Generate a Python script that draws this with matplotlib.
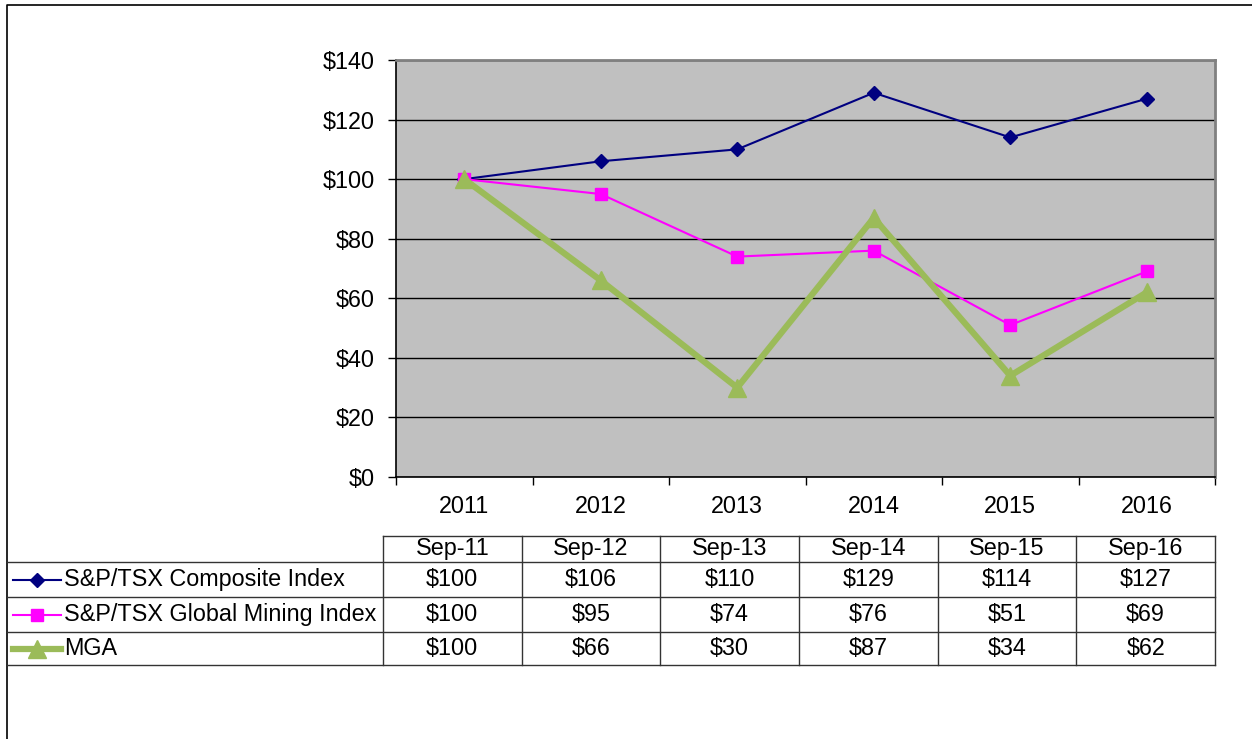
import numpy as np
import matplotlib.pyplot as plt
from matplotlib.lines import Line2D

plt.rcParams['font.family'] = ['Liberation Sans', 'DejaVu Sans']

years = ['2011', '2012', '2013', '2014', '2015', '2016']
dates = ['Sep-11', 'Sep-12', 'Sep-13', 'Sep-14', 'Sep-15', 'Sep-16']
series_names = ['S&P/TSX Composite Index', 'S&P/TSX Global Mining Index', 'MGA']
composite = [100, 106, 110, 129, 114, 127]
mining = [100, 95, 74, 76, 51, 69]
mga = [100, 66, 30, 87, 34, 62]
y_ticks = [0, 20, 40, 60, 80, 100, 120, 140]

W, H = 1252, 739
fs = 16.8
fig = plt.figure(figsize=(W / 100, H / 100), dpi=100)
fig.patch.set_facecolor('white')


def fx(x):
    return x / W


def fy(y):
    return 1 - y / H


# styles for each series: (color, marker, marker size, line width)
styles = [
    ('#000080', 'D', 7, 1.5),
    ('#FF00FF', 's', 9, 1.5),
    ('#9BBB59', '^', 13.5, 4.5),
]

# plot area
ax = fig.add_axes([fx(396), fy(477), fx(1215 - 396), (477 - 60) / H])
ax.set_facecolor('#C0C0C0')
x = np.arange(len(years))
for vals, (c, m, ms, lw) in zip([composite, mining, mga], styles):
    ax.plot(x, vals, color=c, marker=m, markersize=ms, linewidth=lw,
            markeredgecolor=c, zorder=3)

ax.set_xlim(-0.5, len(years) - 0.5)
ax.set_ylim(0, 140)
ax.set_yticks(y_ticks)
ax.set_yticklabels([f'${v}' for v in y_ticks], fontsize=fs)
ax.yaxis.grid(True, color='black', linewidth=1)
ax.set_axisbelow(True)

ax.set_xticks(np.arange(len(years) + 1) - 0.5)
ax.set_xticklabels([])
ax.set_xticks(x, minor=True)
ax.set_xticklabels(years, minor=True, fontsize=fs)
ax.tick_params(axis='x', which='major', length=6, width=1, direction='out')
ax.tick_params(axis='x', which='minor', length=0, pad=13)
ax.tick_params(axis='y', length=6, width=1, pad=9)

for side in ['left', 'bottom']:
    ax.spines[side].set_color('black')
    ax.spines[side].set_linewidth(1.2)
for side in ['top', 'right']:
    ax.spines[side].set_color('#808080')
    ax.spines[side].set_linewidth(2)

# outer frame
fig.add_artist(Line2D([fx(7), fx(7), 1], [0, fy(5), fy(5)], color='black', lw=1.2))

# data table below the chart
col_edges = np.linspace(383, 1215, len(dates) + 1)
row_edges = [536, 562, 597, 632, 665]
tcol = '#333333'
fig.add_artist(Line2D([fx(col_edges[0]), fx(col_edges[-1])], [fy(row_edges[0])] * 2, color=tcol, lw=1))
for ry in row_edges[1:]:
    fig.add_artist(Line2D([fx(7), fx(col_edges[-1])], [fy(ry)] * 2, color=tcol, lw=1))
for cx in col_edges:
    fig.add_artist(Line2D([fx(cx)] * 2, [fy(row_edges[0]), fy(row_edges[-1])], color=tcol, lw=1))

centers = (col_edges[:-1] + col_edges[1:]) / 2
hy = (row_edges[0] + row_edges[1]) / 2
for cx, d in zip(centers, dates):
    fig.text(fx(cx), fy(hy), d, ha='center', va='center', fontsize=fs)

for i, (name, vals, (c, m, ms, lw)) in enumerate(zip(series_names, [composite, mining, mga], styles)):
    ry = (row_edges[i + 1] + row_edges[i + 2]) / 2
    fig.add_artist(Line2D([fx(13), fx(61)], [fy(ry)] * 2, color=c, lw=lw))
    fig.add_artist(Line2D([fx(37)], [fy(ry)], color=c, marker=m, markersize=ms,
                          markeredgecolor=c, linestyle='none'))
    fig.text(fx(64), fy(ry), name, ha='left', va='center', fontsize=fs)
    for cx, v in zip(centers, vals):
        fig.text(fx(cx), fy(ry), f'${v}', ha='center', va='center', fontsize=fs)

fig.savefig('out.png', dpi=100)
